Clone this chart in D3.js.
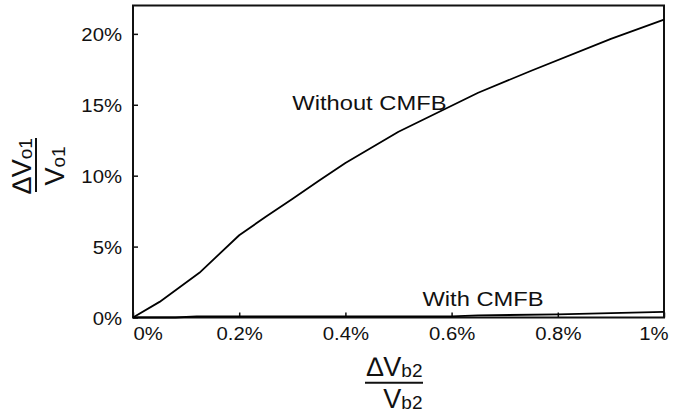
<!DOCTYPE html>
<html>
<head>
<meta charset="utf-8">
<script src="https://cdn.jsdelivr.net/npm/d3@7"></script>
<style>
  html, body { margin: 0; padding: 0; background: #fff; }
  svg { display: block; font-family: "Liberation Sans", Arial, sans-serif; }
</style>
</head>
<body>
<svg id="chart" width="677" height="413"></svg>
<script>
// ΔVb2/Vb2 (%) vs ΔVo1/Vo1 (%)
const xWithout = [0, 0.05, 0.125, 0.2, 0.25, 0.3, 0.35, 0.4, 0.5, 0.65, 0.75, 0.9, 1.0];
const yWithout = [0, 1.1, 3.15, 5.8, 7.1, 8.35, 9.65, 10.9, 13.1, 15.85, 17.4, 19.65, 21.0];

const xWith = [0, 0.08, 0.12, 0.6, 0.65, 0.8, 1.0];
const yWith = [0, 0, 0.08, 0.08, 0.15, 0.22, 0.4];

const xTicks = [0, 0.2, 0.4, 0.6, 0.8, 1.0];
const xTickLabels = ["0%", "0.2%", "0.4%", "0.6%", "0.8%", "1%"];
const yTicks = [0, 5, 10, 15, 20];
const yTickLabels = ["0%", "5%", "10%", "15%", "20%"];

const W = 677, H = 413;
const M = { top: 5.5, right: 13, bottom: 95.5, left: 133 };
const STRETCH = 1.13;   // tick / annotation text is a bit wide in the source

const svg = d3.select("#chart");

const x = d3.scaleLinear().domain([0, 1]).range([M.left, W - M.right]);
const y = d3.scaleLinear().domain([0, 22]).range([H - M.bottom, M.top]);

// ── Axes (ticks point inward) ────────────────────────────────────
const gx = svg.append("g")
    .attr("transform", `translate(0,${H - M.bottom})`)
    .call(d3.axisBottom(x).tickValues(xTicks).tickSize(-5).tickSizeOuter(0).tickPadding(10)
        .tickFormat((d, i) => xTickLabels[i]));

const gy = svg.append("g")
    .attr("transform", `translate(${M.left},0)`)
    .call(d3.axisLeft(y).tickValues(yTicks).tickSize(-5).tickSizeOuter(0).tickPadding(11)
        .tickFormat((d, i) => yTickLabels[i]));

[gx, gy].forEach(g => {
    g.select(".domain").remove();
    g.selectAll(".tick line").attr("stroke", "#111").attr("stroke-width", 1.5);
    g.selectAll(".tick text")
        .attr("fill", "#111").attr("font-size", 18)
        .attr("font-family", "'Liberation Sans', Arial, sans-serif");
});

gx.selectAll(".tick text").each(function (d, i, nodes) {
    const t = d3.select(this);
    const ty = +t.attr("y");
    let dx = 0, anchor = "middle";
    if (i === 0) { anchor = "start"; dx = 0; }
    if (i === nodes.length - 1) { anchor = "end"; dx = 4; }
    t.attr("text-anchor", anchor).attr("y", null).attr("dy", null)
        .attr("transform", `translate(${dx},${ty + 12.8}) scale(${STRETCH},1)`);
});

gy.selectAll(".tick text").each(function () {
    const t = d3.select(this);
    const tx = +t.attr("x");
    t.attr("x", null).attr("dy", null)
        .attr("transform", `translate(${tx},7) scale(${STRETCH},1)`);
});

// ── Frame ────────────────────────────────────────────────────────
svg.append("rect")
    .attr("x", x(0)).attr("y", y(22))
    .attr("width", x(1) - x(0)).attr("height", y(0) - y(22))
    .attr("fill", "none").attr("stroke", "#111").attr("stroke-width", 2);

// ── Curves ───────────────────────────────────────────────────────
const line = d3.line().x(d => x(d[0])).y(d => y(d[1]));

svg.append("path")
    .datum(d3.zip(xWithout, yWithout))
    .attr("d", line)
    .attr("fill", "none").attr("stroke", "#000").attr("stroke-width", 1.8)
    .attr("stroke-linejoin", "round");

svg.append("path")
    .datum(d3.zip(xWith, yWith))
    .attr("d", line)
    .attr("fill", "none").attr("stroke", "#000").attr("stroke-width", 1.8)
    .attr("stroke-linejoin", "round");

// ── Annotations ──────────────────────────────────────────────────
function note(xv, yv, txt) {
    svg.append("text")
        .attr("transform", `translate(${x(xv)},${y(yv)}) scale(${STRETCH},1)`)
        .attr("font-size", 21).attr("fill", "#111")
        .text(txt);
}
note(0.3, 14.64, "Without CMFB");
note(0.545, 0.8, "With CMFB");

// ── Axis titles (fractions) ──────────────────────────────────────
function frac(g, num, numSub, den, denSub, anchor) {
    const a = g.append("text").attr("text-anchor", anchor).attr("fill", "#111")
        .attr("y", 0).attr("font-size", 27);
    a.append("tspan").text(num);
    a.append("tspan").attr("font-size", 19).attr("dy", 1).text(numSub);
    const b = g.append("text").attr("text-anchor", anchor).attr("fill", "#111")
        .attr("y", 32.6).attr("font-size", 27);
    b.append("tspan").text(den);
    b.append("tspan").attr("font-size", 19).attr("dy", 1).text(denSub);
}

// x title
const xt = svg.append("g").attr("transform", "translate(422.5,375.7)");
frac(xt, "\u2206V", "b2", "V", "b2", "end");
xt.append("line").attr("x1", -57.5).attr("x2", 0.5).attr("y1", 7).attr("y2", 7)
    .attr("stroke", "#111").attr("stroke-width", 2);

// y title (rotated)
const yt = svg.append("g").attr("transform", "translate(31,166) rotate(-90)");
frac(yt, "\u2206V", "o1", "V", "o1", "middle");
yt.append("line").attr("x1", -26).attr("x2", 28).attr("y1", 5).attr("y2", 5)
    .attr("stroke", "#111").attr("stroke-width", 2);
</script>
</body>
</html>
